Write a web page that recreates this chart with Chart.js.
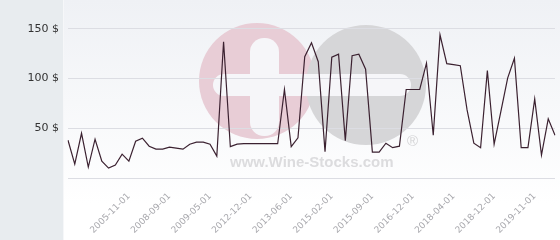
<!DOCTYPE html>
<html lang="en">
<head>
    <meta charset="UTF-8">
    <title>Wine price history</title>
    <script src="https://cdn.jsdelivr.net/npm/chart.js"></script>
    <style>
        body {
            margin: 0;
            background: #ffffff;
            overflow: hidden;
        }
        .chart-container {
            width: 560px;
            height: 240px;
        }
    </style>
</head>
<body>
    <div class="chart-container">
        <canvas id="priceChart" width="560" height="240"></canvas>
    </div>
    <script>
        // Dates only where the reference shows a tick label
        const dateLabels = [
            '', '', '', '', '', '', '', '', '', '2005-11-01',
            '', '', '', '', '', '2008-09-01', '', '', '', '',
            '', '2009-05-01', '', '', '', '', '', '2012-12-01', '', '',
            '', '', '', '2013-06-01', '', '', '', '', '', '2015-02-01',
            '', '', '', '', '', '2015-09-01', '', '', '', '',
            '', '2016-12-01', '', '', '', '', '', '2018-04-01', '', '',
            '', '', '', '2018-12-01', '', '', '', '', '', '2019-11-01',
            '', '', ''
        ];

        const prices = [
            38, 14, 45, 11, 39, 17, 10, 13, 24, 17,
            37, 40, 32, 29, 29, 31, 30, 29, 34, 36,
            36, 34, 22, 137, 31.5, 34, 34.5, 34.5, 34.5, 34.5,
            34.5, 34.5, 89, 31.5, 40.5, 122, 136, 117, 26.5, 121.5,
            124.5, 37.5, 123, 124.5, 109.5, 26, 26, 35, 30.5, 32,
            89, 89, 89, 115.5, 43, 144, 115, 114, 113, 68.5,
            35, 30.5, 108, 34, 67, 100.5, 120.5, 30.5, 30.5, 79.5,
            23, 59.5, 43
        ];

        const yTicks = [0, 50, 100, 150];

        // background panel + watermark
        const backdrop = {
            id: 'backdrop',
            beforeDraw(chart) {
                const ctx = chart.ctx;
                const w = chart.width, h = chart.height;
                ctx.save();
                ctx.fillStyle = '#e8ecef';
                ctx.fillRect(0, 0, 63, h);
                const g = ctx.createLinearGradient(0, 0, 0, h);
                g.addColorStop(0, '#eff1f5');
                g.addColorStop(0.85, '#ffffff');
                g.addColorStop(1, '#ffffff');
                ctx.fillStyle = g;
                ctx.fillRect(64, 0, w - 64, h);
                ctx.fillStyle = '#f6f7f9';
                ctx.fillRect(63, 0, 1, h);

                // logo circles
                ctx.fillStyle = '#e8cdd6';
                ctx.beginPath();
                ctx.arc(257, 81, 58, 0, Math.PI * 2);
                ctx.fill();
                ctx.fillStyle = '#d6d6d8';
                ctx.beginPath();
                ctx.arc(366, 85, 60, 0, Math.PI * 2);
                ctx.fill();

                // white cross and minus
                ctx.fillStyle = '#f6f6f9';
                ctx.beginPath();
                ctx.roundRect(250, 38, 29, 98, 14);
                ctx.fill();
                ctx.beginPath();
                ctx.roundRect(213, 74, 198, 22, 11);
                ctx.fill();

                // text
                ctx.fillStyle = '#dcdcde';
                ctx.font = 'bold 15px "Liberation Sans", Arial, sans-serif';
                ctx.textBaseline = 'alphabetic';
                ctx.fillText('www.Wine-Stocks.com', 230, 167);
                ctx.fillStyle = '#d4d4d6';
                ctx.font = '15px "Liberation Sans", Arial, sans-serif';
                ctx.fillText('\u00ae', 407, 146);
                ctx.restore();
            }
        };

        const ctx = document.getElementById('priceChart').getContext('2d');
        const priceChart = new Chart(ctx, {
            type: 'line',
            data: {
                labels: dateLabels,
                datasets: [{
                    data: prices,
                    borderColor: '#3b2130',
                    borderWidth: 1.2,
                    pointRadius: 0,
                    tension: 0,
                    fill: false
                }]
            },
            options: {
                responsive: false,
                animation: false,
                events: [],
                layout: {
                    padding: { top: 9, right: 5, left: 0, bottom: 0 }
                },
                plugins: {
                    legend: { display: false },
                    tooltip: { enabled: false }
                },
                scales: {
                    x: {
                        grid: { display: false },
                        border: { display: false },
                        afterFit(axis) {
                            axis.height = 62;
                            axis.paddingLeft = 0;
                            axis.paddingRight = 0;
                        },
                        ticks: {
                            autoSkip: false,
                            minRotation: 45,
                            maxRotation: 45,
                            padding: 5,
                            color: '#a8a8ad',
                            font: { family: 'DejaVu Sans', size: 9 }
                        }
                    },
                    y: {
                        min: 0,
                        max: 170,
                        afterFit(axis) {
                            axis.width = 68;
                            axis.paddingTop = 0;
                            axis.paddingBottom = 0;
                        },
                        afterBuildTicks(axis) {
                            axis.ticks = yTicks.map(v => ({ value: v }));
                        },
                        border: { display: false },
                        grid: {
                            color: '#dcdde3',
                            lineWidth: 1,
                            drawTicks: false
                        },
                        ticks: {
                            padding: 9,
                            color: '#333333',
                            font: { family: 'DejaVu Sans', size: 11 },
                            callback: v => v === 0 ? '' : v + ' $'
                        }
                    }
                }
            },
            plugins: [backdrop]
        });
    </script>
</body>
</html>
